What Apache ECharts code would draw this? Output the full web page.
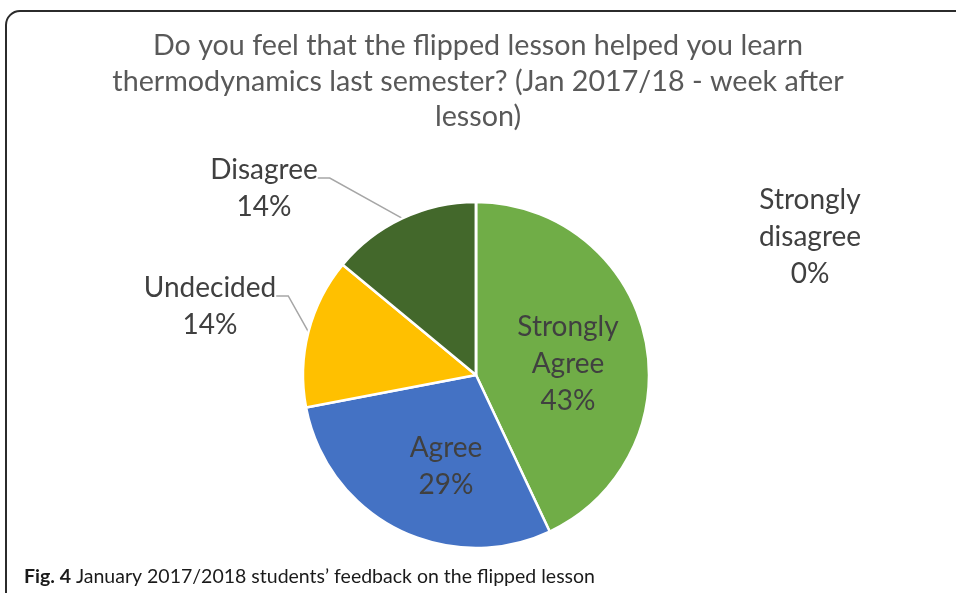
<!DOCTYPE html>
<html>
<head>
<meta charset="utf-8">
<script src="https://cdn.jsdelivr.net/npm/echarts@6/dist/echarts.min.js"></script>
<style>
  html, body { margin: 0; padding: 0; background: #fff; }
  #chart { width: 956px; height: 593px; }
</style>
</head>
<body>
<div id="chart"></div>
<script>
// ---- data ----
const categories = ['Strongly Agree', 'Agree', 'Undecided', 'Disagree', 'Strongly disagree'];
const labelTexts = ['Strongly\nAgree', 'Agree', 'Undecided', 'Disagree', 'Strongly\ndisagree'];
const percentages = [43, 29, 14, 14, 0];
const titleText = 'Do you feel that the flipped lesson helped you learn\nthermodynamics last semester? (Jan 2017/18 - week after\nlesson)';
const captionBold = 'Fig. 4';
const captionText = ' January 2017/2018 students\u2019 feedback on the flipped lesson';

// ---- styles / layout ----
const colors = ['#70AD47', '#4472C4', '#FFC000', '#43682B', '#264478'];
const insideIdx = [0, 1];
const guidedIdx = [2, 3];
// label anchor: [centre x, y]; for guided labels y is the leader-line level
const labelPlacement = {
  0: [568, 364],
  1: [446, 466],
  2: [210, 296],
  3: [264, 178],
  4: [810, 237]
};
const FONT = 'Lato, "Open Sans", sans-serif';

const seriesData = categories.map((c, i) => {
  const item = {
    name: c,
    value: percentages[i],
    itemStyle: { color: colors[i] },
    label: { position: insideIdx.includes(i) ? 'inside' : 'outside' }
  };
  if (i === 4) item.labelLine = { show: false };
  return item;
});

const chart = echarts.init(document.getElementById('chart'), null, { renderer: 'canvas' });
chart.setOption({
  backgroundColor: '#fff',
  animation: false,
  title: {
    text: titleText,
    left: 473,
    top: 23,
    textAlign: 'center',
    textStyle: {
      fontFamily: FONT,
      fontSize: 28.7,
      fontWeight: 'normal',
      color: '#595959',
      lineHeight: 35.5
    }
  },
  graphic: [
    {
      type: 'rect',
      shape: { x: 6, y: 11, width: 1100, height: 800, r: 14 },
      style: { fill: 'none', stroke: '#2b2b2b', lineWidth: 2 },
      silent: true
    },
    {
      type: 'text',
      left: 24,
      top: 567,
      style: {
        text: '{b|' + captionBold + '}{r|' + captionText + '}',
        rich: {
          b: { fontFamily: FONT, fontWeight: 'bold', fontSize: 19.5, fill: '#1a1a1a' },
          r: { fontFamily: FONT, fontSize: 19.5, fill: '#1a1a1a' }
        }
      }
    }
  ],
  series: [{
    type: 'pie',
    center: [476, 375],
    radius: [0, 173],
    startAngle: 90,
    clockwise: true,
    avoidLabelOverlap: false,
    data: seriesData,
    itemStyle: { borderColor: '#fff', borderWidth: 2.5 },
    label: {
      show: true,
      formatter: p => (guidedIdx.includes(p.dataIndex) ? '{s| }\n' : '') +
        labelTexts[p.dataIndex] + '\n' + p.value + '%',
      fontFamily: FONT,
      fontSize: 28,
      lineHeight: 37,
      color: '#404040',
      align: 'center',
      rich: {
        s: { fontSize: 8, lineHeight: 21 }
      }
    },
    labelLine: {
      show: true,
      length: 20,
      length2: 12,
      lineStyle: { color: '#a6a6a6', width: 1.5 }
    },
    labelLayout: function (p) {
      const pos = labelPlacement[p.dataIndex];
      if (!pos) return {};
      return { x: pos[0], y: pos[1], align: 'center', verticalAlign: 'middle' };
    }
  }]
});
</script>
</body>
</html>
